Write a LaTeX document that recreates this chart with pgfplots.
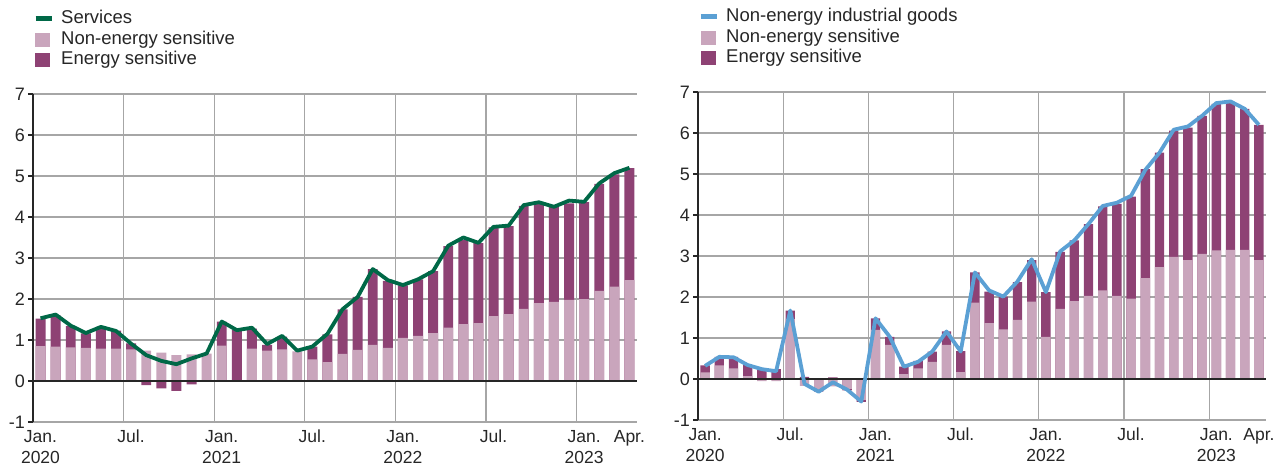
\documentclass[border=0pt]{standalone}
\usepackage{fontspec}
\setmainfont{Liberation Sans}
\usepackage{pgfplots}
\usepackage{pgfplotstable}
\pgfplotsset{compat=1.18}
\definecolor{svc}{RGB}{0,104,71}
\definecolor{nes}{RGB}{201,165,188}
\definecolor{esc}{RGB}{142,66,116}
\definecolor{neig}{RGB}{91,160,212}
\definecolor{gridc}{RGB}{166,166,166}

% x = month slot centre; l = non-energy sensitive bar; d = energy sensitive bar end (from zero); s = line
\pgfplotstableread{
x l d s
0.5 0.85 1.52 1.53
1.5 0.84 1.60 1.62
2.5 0.82 1.34 1.35
3.5 0.81 1.16 1.17
4.5 0.79 1.32 1.32
5.5 0.79 1.23 1.22
6.5 0.77 0.92 0.91
7.5 0.74 -0.10 0.63
8.5 0.69 -0.18 0.49
9.5 0.63 -0.24 0.41
10.5 0.65 -0.08 0.55
11.5 0.67 0.00 0.67
12.5 0.86 1.45 1.45
13.5 0.00 1.24 1.24
14.5 0.79 1.28 1.30
15.5 0.74 0.88 0.90
16.5 0.77 1.08 1.10
17.5 0.72 0.00 0.74
18.5 0.53 0.84 0.84
19.5 0.46 1.14 1.15
20.5 0.66 1.75 1.75
21.5 0.76 2.05 2.05
22.5 0.88 2.73 2.73
23.5 0.81 2.44 2.46
24.5 1.05 2.33 2.34
25.5 1.10 2.48 2.48
26.5 1.17 2.68 2.68
27.5 1.30 3.29 3.30
28.5 1.39 3.44 3.50
29.5 1.41 3.36 3.37
30.5 1.58 3.75 3.76
31.5 1.63 3.78 3.79
32.5 1.76 4.27 4.29
33.5 1.90 4.32 4.36
34.5 1.93 4.24 4.25
35.5 1.98 4.33 4.40
36.5 2.00 4.36 4.37
37.5 2.20 4.81 4.82
38.5 2.30 5.04 5.07
39.5 2.46 5.19 5.20
}\services

\pgfplotstableread{
x l d s
0.5 0.16 0.33 0.32
1.5 0.33 0.54 0.54
2.5 0.26 0.54 0.53
3.5 0.07 0.34 0.34
4.5 -0.05 0.26 0.24
5.5 -0.05 0.24 0.19
6.5 1.46 1.67 1.67
7.5 -0.17 0.05 -0.12
8.5 -0.29 -0.31 -0.31
9.5 -0.18 0.04 -0.08
10.5 -0.24 -0.28 -0.26
11.5 -0.51 -0.56 -0.55
12.5 1.20 1.48 1.48
13.5 0.83 1.03 1.03
14.5 0.12 0.30 0.30
15.5 0.26 0.44 0.42
16.5 0.42 0.67 0.67
17.5 0.83 1.16 1.16
18.5 0.17 0.68 0.67
19.5 1.86 2.60 2.60
20.5 1.36 2.13 2.16
21.5 1.21 2.01 2.01
22.5 1.44 2.36 2.38
23.5 1.89 2.90 2.92
24.5 1.03 2.12 2.12
25.5 1.71 3.10 3.11
26.5 1.90 3.38 3.38
27.5 2.03 3.78 3.78
28.5 2.16 4.21 4.22
29.5 2.03 4.27 4.30
30.5 1.96 4.45 4.47
31.5 2.46 5.12 5.10
32.5 2.73 5.52 5.52
33.5 2.98 6.06 6.08
34.5 2.90 6.13 6.16
35.5 3.05 6.42 6.42
36.5 3.14 6.71 6.73
37.5 3.15 6.75 6.77
38.5 3.15 6.59 6.59
39.5 2.90 6.20 6.20
}\goods

\pgfplotsset{
  panel/.style={
    scale only axis, height=328bp,
    xmin=0, xmax=40, ymin=-1, ymax=7,
    axis lines*=left,
    y axis line style={black!85, line width=1.3bp},
    x axis line style={gridc, line width=1.3bp},
    xmajorgrids, ymajorgrids,
    grid style={gridc, line width=1.2bp},
    xtick={0,6,12,18,24,30,36},
    xticklabels={Jan.\\2020,Jul.,Jan.\\2021,Jul.,Jan.\\2022,Jul.,Jan.\\2023},
    extra x ticks={39}, extra x tick labels={Apr.},
    extra x tick style={grid=none},
    xtick style={draw=none},
    ytick={-1,0,...,7},
    yticklabels={-1,0,1,2,3,4,5,6,7},
    ytick style={black!85, line width=1.2bp},
    tick align=outside, major tick length=5bp,
    ticklabel style={text=black!85},
    xticklabel style={font=\fontsize{17.5bp}{21bp}\selectfont, align=center, inner xsep=2bp, inner ysep=0bp, yshift=-3bp},
    yticklabel style={font=\fontsize{18bp}{21bp}\selectfont, inner xsep=2bp, inner ysep=0bp, xshift=-1bp},
    clip=false,
    legend cell align=left,
    legend style={draw=none, fill=none, anchor=north west,
      font=\fontsize{18.5bp}{21bp}\selectfont, text=black!85,
      row sep=2bp, inner sep=0pt,
      nodes={inner sep=0bp, inner xsep=7bp, text height=14bp, text depth=4.5bp}},
  },
  linelegend/.style={legend image code/.code={\draw[#1, line width=5bp] (0bp,0bp) -- (16bp,0bp);}},
  boxlegend/.style={legend image code/.code={\fill[#1] (0bp,-6.5bp) rectangle (14bp,6.5bp);}},
}

\begin{document}
\begin{tikzpicture}
\useasboundingbox (0,0) rectangle (1282bp,465bp);
% Left panel: services
\begin{axis}[panel, width=604bp, at={(33bp,43bp)}, anchor=south west,
  xticklabel style={xshift=7.5bp},
  legend style={at={(axis description cs:0.0,1.258)}}]
\addlegendimage{linelegend=svc}
\addlegendentry{Services}
\addlegendimage{boxlegend=nes}
\addlegendentry{Non-energy sensitive}
\addlegendimage{boxlegend=esc}
\addlegendentry{Energy sensitive}
\addplot[ybar, bar width=0.66, bar shift=0pt, fill=esc, draw=none, forget plot] table[x=x, y=d] {\services};
\addplot[ybar, bar width=0.66, bar shift=0pt, fill=nes, draw=none, forget plot] table[x=x, y=l] {\services};
\addplot[black!85, line width=1.3bp, forget plot] coordinates {(0,0) (40,0)};
\addplot[svc, line width=3.8bp, line join=round, forget plot] table[x=x, y=s] {\services};
\end{axis}
% Right panel: non-energy industrial goods
\begin{axis}[panel, width=568bp, at={(698bp,45bp)}, anchor=south west,
  xticklabel style={xshift=7.1bp},
  legend style={at={(axis description cs:0.0,1.258)}}]
\addlegendimage{linelegend=neig}
\addlegendentry{Non-energy industrial goods}
\addlegendimage{boxlegend=nes}
\addlegendentry{Non-energy sensitive}
\addlegendimage{boxlegend=esc}
\addlegendentry{Energy sensitive}
\addplot[ybar, bar width=0.66, bar shift=0pt, fill=esc, draw=none, forget plot] table[x=x, y=d] {\goods};
\addplot[ybar, bar width=0.66, bar shift=0pt, fill=nes, draw=none, forget plot] table[x=x, y=l] {\goods};
\addplot[black!85, line width=1.3bp, forget plot] coordinates {(0,0) (40,0)};
\addplot[neig, line width=3.8bp, line join=round, forget plot] table[x=x, y=s] {\goods};
\end{axis}
\end{tikzpicture}
\end{document}
